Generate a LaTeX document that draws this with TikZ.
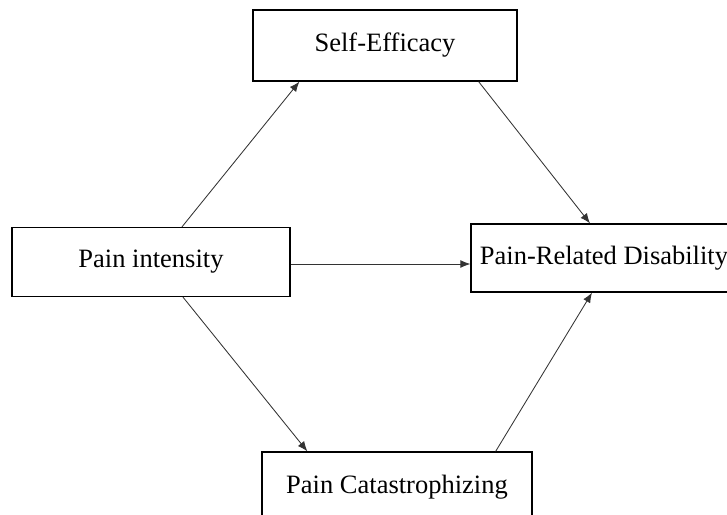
\documentclass[tikz,border=0pt]{standalone}
\usepackage{fontspec}
\setmainfont{Liberation Serif}
\usetikzlibrary{arrows.meta}
\begin{document}
\begin{tikzpicture}[x=1pt,y=-1pt,
  box/.style={draw=black,line width=1.3pt,fill=white,inner sep=0pt,font=\fontsize{26.5}{30}\selectfont},
  conn/.style={draw=black!80,line width=0.85pt,-{Latex[length=10pt,width=8pt]}}]
\useasboundingbox (0,0) rectangle (727,514);
\clip (0,0) rectangle (727,514);
\node[box,minimum width=264pt,minimum height=71pt] (SE) at (385,45.5) {Self-Efficacy};
\node[box,minimum width=278pt,minimum height=69pt] (PI) at (151,262) {Pain intensity};
\node[box,minimum width=266pt,minimum height=68pt] (PRD) at (604,258) {Pain-Related Disability};
\node[box,minimum width=270pt,minimum height=70pt] (PC) at (397,487) {Pain Catastrophizing};
\draw[conn] ([xshift=31pt]PI.north) -- ([xshift=47pt]SE.south west);
\draw[conn] ([xshift=-39pt]SE.south east) -- ([xshift=-14pt]PRD.north);
\draw[conn] ([yshift=-2pt]PI.east) -- ([yshift=-2pt]PI.east -| PRD.west);
\draw[conn] ([xshift=32pt]PI.south) -- ([xshift=46pt]PC.north west);
\draw[conn] ([xshift=-37pt]PC.north east) -- ([xshift=-12pt]PRD.south);
\end{tikzpicture}
\end{document}
